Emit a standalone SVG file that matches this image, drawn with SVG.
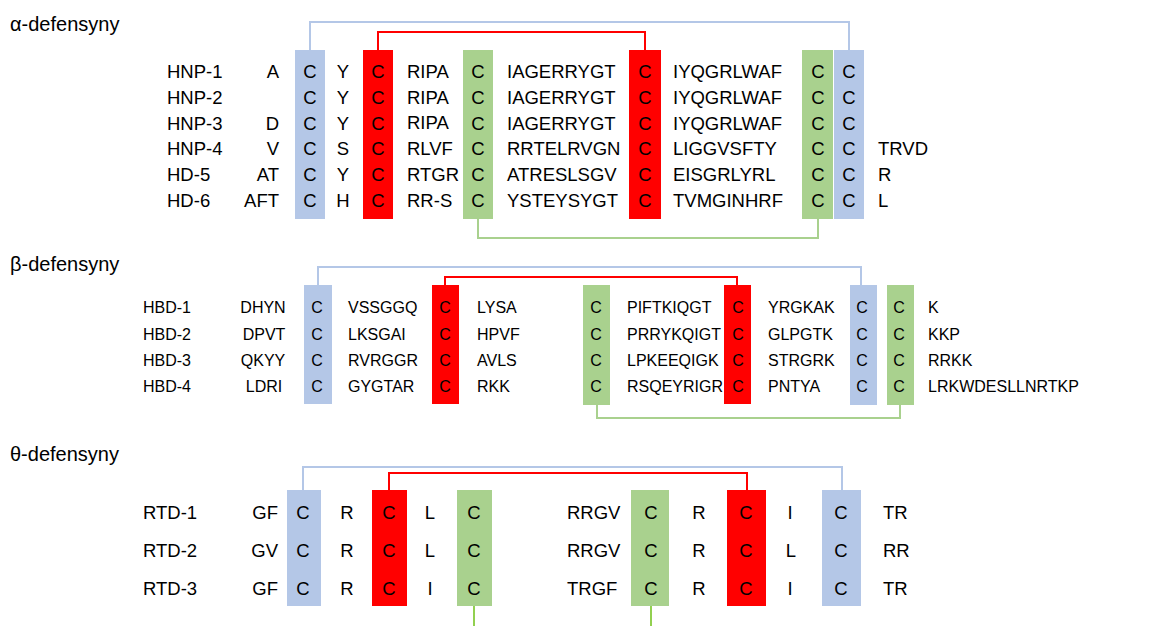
<svg xmlns="http://www.w3.org/2000/svg" width="1160" height="626" viewBox="0 0 1160 626">
<style>
text{font-family:"Liberation Sans",Arial,sans-serif;fill:#000}
.t{font-size:20px}
.a{font-size:18.5px}
.b{font-size:16px}
.h{font-size:18.5px}
.m{text-anchor:middle}
.e{text-anchor:end}
.bl{fill:#B4C7E7}
.rd{fill:#FF0000}
.gr{fill:#A9D18E}
.lb{stroke:#B4C7E7;stroke-width:2;fill:none}
.lr{stroke:#FF0000;stroke-width:2;fill:none}
.lg{stroke:#A9D18E;stroke-width:2;fill:none}
.lg2{stroke:#92D050;stroke-width:2;fill:none}
</style>
<rect width="1160" height="626" fill="#fff"/>

<g id="titles">
<text class="t" x="10" y="31">α-defensyny</text>
<text class="t" x="10" y="271">β-defensyny</text>
<text class="t" x="10" y="461">θ-defensyny</text>
</g>

<g id="connectors">
<!-- alpha -->
<path class="lb" d="M310,50V22H849V50"/>
<path class="lr" d="M378,50V32H645V50"/>
<path class="lg" d="M478,219V238H818V219"/>
<!-- beta -->
<path class="lb" d="M318,285V267H861V285"/>
<path class="lr" d="M445,285V277H737V285"/>
<path class="lg" d="M597,405V418H900V405"/>
<!-- theta -->
<path class="lb" d="M303,490V467H842V490"/>
<path class="lr" d="M389,490V473H747V490"/>
<path class="lg2" d="M474,606V626"/>
<path class="lg2" d="M651,606V626"/>
</g>

<g id="alpha-boxes">
<g id="a-c1"><rect class="bl" x="295" y="50" width="30" height="169"/></g>
<g id="a-c2"><rect class="rd" x="363" y="50" width="30" height="169"/></g>
<g id="a-c3"><rect class="gr" x="463" y="50" width="30" height="169"/></g>
<g id="a-c4"><rect class="rd" x="629" y="50" width="32" height="169"/></g>
<g id="a-c5"><rect class="gr" x="802" y="50" width="31" height="169"/></g>
<g id="a-c6"><rect class="bl" x="834" y="50" width="30" height="169"/></g>
</g>

<g id="beta-boxes">
<g id="b-c1"><rect class="bl" x="304" y="285" width="28" height="119"/></g>
<g id="b-c2"><rect class="rd" x="432" y="285" width="27" height="119"/></g>
<g id="b-c3"><rect class="gr" x="583" y="285" width="27" height="120"/></g>
<g id="b-c4"><rect class="rd" x="724" y="285" width="27" height="119"/></g>
<g id="b-c5"><rect class="bl" x="850" y="285" width="27" height="120"/></g>
<g id="b-c6"><rect class="gr" x="887" y="285" width="27" height="120"/></g>
</g>

<g id="theta-boxes">
<g id="t-c1"><rect class="bl" x="287" y="490" width="34" height="116"/></g>
<g id="t-c2"><rect class="rd" x="372" y="490" width="35" height="116"/></g>
<g id="t-c3"><rect class="gr" x="457" y="490" width="35" height="116"/></g>
<g id="t-c4"><rect class="gr" x="631" y="490" width="38" height="116"/></g>
<g id="t-c5"><rect class="rd" x="727" y="490" width="39" height="116"/></g>
<g id="t-c6"><rect class="bl" x="822" y="490" width="39" height="116"/></g>
</g>

<g id="alpha-rows" class="a">
<g id="HNP-1"><text class="a" x="167" y="78">HNP-1</text><text class="a e" x="279" y="78">A</text><text class="a m" x="310" y="78">C</text><text class="a m" x="343" y="78">Y</text><text class="a m" x="378" y="78">C</text><text class="a" x="407" y="78">RIPA</text><text class="a m" x="478" y="78">C</text><text class="a" x="507" y="78">IAGERRYGT</text><text class="a m" x="645" y="78">C</text><text class="a" x="673" y="78">IYQGRLWAF</text><text class="a m" x="818" y="78">C</text><text class="a m" x="849" y="78">C</text></g>
<g id="HNP-2"><text class="a" x="167" y="104">HNP-2</text><text class="a m" x="310" y="104">C</text><text class="a m" x="343" y="104">Y</text><text class="a m" x="378" y="104">C</text><text class="a" x="407" y="104">RIPA</text><text class="a m" x="478" y="104">C</text><text class="a" x="507" y="104">IAGERRYGT</text><text class="a m" x="645" y="104">C</text><text class="a" x="673" y="104">IYQGRLWAF</text><text class="a m" x="818" y="104">C</text><text class="a m" x="849" y="104">C</text></g>
<g id="HNP-3"><text class="a" x="167" y="130">HNP-3</text><text class="a e" x="279" y="130">D</text><text class="a m" x="310" y="130">C</text><text class="a m" x="343" y="130">Y</text><text class="a m" x="378" y="130">C</text><text class="a" x="407" y="129">RIPA</text><text class="a m" x="478" y="130">C</text><text class="a" x="507" y="130">IAGERRYGT</text><text class="a m" x="645" y="130">C</text><text class="a" x="673" y="130">IYQGRLWAF</text><text class="a m" x="818" y="130">C</text><text class="a m" x="849" y="130">C</text></g>
<g id="HNP-4"><text class="a" x="167" y="155">HNP-4</text><text class="a e" x="279" y="155">V</text><text class="a m" x="310" y="155">C</text><text class="a m" x="343" y="155">S</text><text class="a m" x="378" y="155">C</text><text class="a" x="407" y="155">RLVF</text><text class="a m" x="478" y="155">C</text><text class="a" x="507" y="155">RRTELRVGN</text><text class="a m" x="645" y="155">C</text><text class="a" x="673" y="155">LIGGVSFTY</text><text class="a m" x="818" y="155">C</text><text class="a m" x="849" y="155">C</text><text class="a" x="878" y="155">TRVD</text></g>
<g id="HD-5"><text class="a" x="167" y="181">HD-5</text><text class="a e" x="279" y="181">AT</text><text class="a m" x="310" y="181">C</text><text class="a m" x="343" y="181">Y</text><text class="a m" x="378" y="181">C</text><text class="a" x="407" y="181">RTGR</text><text class="a m" x="478" y="181">C</text><text class="a" x="507" y="181">ATRESLSGV</text><text class="a m" x="645" y="181">C</text><text class="a" x="673" y="181">EISGRLYRL</text><text class="a m" x="818" y="181">C</text><text class="a m" x="849" y="181">C</text><text class="a" x="878" y="181">R</text></g>
<g id="HD-6"><text class="a" x="167" y="207">HD-6</text><text class="a e" x="279" y="207">AFT</text><text class="a m" x="310" y="207">C</text><text class="a m" x="343" y="207">H</text><text class="a m" x="378" y="207">C</text><text class="a" x="407" y="207">RR-S</text><text class="a m" x="478" y="207">C</text><text class="a" x="507" y="207">YSTEYSYGT</text><text class="a m" x="645" y="207">C</text><text class="a" x="673" y="207">TVMGINHRF</text><text class="a m" x="818" y="207">C</text><text class="a m" x="849" y="207">C</text><text class="a" x="878" y="207">L</text></g>
</g>

<g id="beta-rows">
<g id="HBD-1"><text class="b" x="143" y="313">HBD-1</text><text class="b m" x="263" y="313">DHYN</text><text class="b m" x="317" y="313">C</text><text class="b" x="348" y="313">VSSGGQ</text><text class="b m" x="445" y="313">C</text><text class="b" x="477" y="313">LYSA</text><text class="b m" x="596" y="313">C</text><text class="b" x="627" y="313">PIFTKIQGT</text><text class="b m" x="738" y="313">C</text><text class="b" x="768" y="313">YRGKAK</text><text class="b m" x="862" y="313">C</text><text class="b m" x="899" y="313">C</text><text class="b" x="928" y="313">K</text></g>
<g id="HBD-2"><text class="b" x="143" y="340">HBD-2</text><text class="b m" x="264" y="340">DPVT</text><text class="b m" x="317" y="340">C</text><text class="b" x="348" y="340">LKSGAI</text><text class="b m" x="445" y="340">C</text><text class="b" x="477" y="340">HPVF</text><text class="b m" x="596" y="340">C</text><text class="b" x="627" y="340">PRRYKQIGT</text><text class="b m" x="738" y="340">C</text><text class="b" x="768" y="340">GLPGTK</text><text class="b m" x="862" y="340">C</text><text class="b m" x="899" y="340">C</text><text class="b" x="928" y="340">KKP</text></g>
<g id="HBD-3"><text class="b" x="143" y="366">HBD-3</text><text class="b m" x="263" y="366">QKYY</text><text class="b m" x="317" y="366">C</text><text class="b" x="348" y="366">RVRGGR</text><text class="b m" x="445" y="366">C</text><text class="b" x="477" y="366">AVLS</text><text class="b m" x="596" y="366">C</text><text class="b" x="627" y="366">LPKEEQIGK</text><text class="b m" x="738" y="366">C</text><text class="b" x="768" y="366">STRGRK</text><text class="b m" x="862" y="366">C</text><text class="b m" x="899" y="366">C</text><text class="b" x="928" y="366">RRKK</text></g>
<g id="HBD-4"><text class="b" x="143" y="392">HBD-4</text><text class="b m" x="264" y="392">LDRI</text><text class="b m" x="317" y="392">C</text><text class="b" x="348" y="392">GYGTAR</text><text class="b m" x="445" y="392">C</text><text class="b" x="477" y="392">RKK</text><text class="b m" x="596" y="392">C</text><text class="b" x="627" y="392">RSQEYRIGR</text><text class="b m" x="738" y="392">C</text><text class="b" x="768" y="392">PNTYA</text><text class="b m" x="862" y="392">C</text><text class="b m" x="899" y="392">C</text><text class="b" x="928" y="392">LRKWDESLLNRTKP</text></g>
</g>

<g id="theta-rows">
<g id="RTD-1"><text class="h" x="143" y="519">RTD-1</text><text class="h e" x="278" y="519">GF</text><text class="h m" x="303" y="519">C</text><text class="h m" x="347" y="519">R</text><text class="h m" x="389" y="519">C</text><text class="h m" x="430" y="519">L</text><text class="h m" x="474" y="519">C</text><text class="h" x="567" y="519">RRGV</text><text class="h m" x="651" y="519">C</text><text class="h m" x="699" y="519">R</text><text class="h m" x="746" y="519">C</text><text class="h m" x="790" y="519">I</text><text class="h m" x="841" y="519">C</text><text class="h" x="883" y="519">TR</text></g>
<g id="RTD-2"><text class="h" x="143" y="557">RTD-2</text><text class="h e" x="278" y="557">GV</text><text class="h m" x="303" y="557">C</text><text class="h m" x="347" y="557">R</text><text class="h m" x="389" y="557">C</text><text class="h m" x="430" y="557">L</text><text class="h m" x="474" y="557">C</text><text class="h" x="567" y="557">RRGV</text><text class="h m" x="651" y="557">C</text><text class="h m" x="699" y="557">R</text><text class="h m" x="746" y="557">C</text><text class="h m" x="791" y="557">L</text><text class="h m" x="841" y="557">C</text><text class="h" x="883" y="557">RR</text></g>
<g id="RTD-3"><text class="h" x="143" y="595">RTD-3</text><text class="h e" x="278" y="595">GF</text><text class="h m" x="303" y="595">C</text><text class="h m" x="347" y="595">R</text><text class="h m" x="389" y="595">C</text><text class="h m" x="430" y="595">I</text><text class="h m" x="474" y="595">C</text><text class="h" x="567" y="595">TRGF</text><text class="h m" x="651" y="595">C</text><text class="h m" x="699" y="595">R</text><text class="h m" x="746" y="595">C</text><text class="h m" x="790" y="595">I</text><text class="h m" x="841" y="595">C</text><text class="h" x="883" y="595">TR</text></g>
</g>
</svg>
